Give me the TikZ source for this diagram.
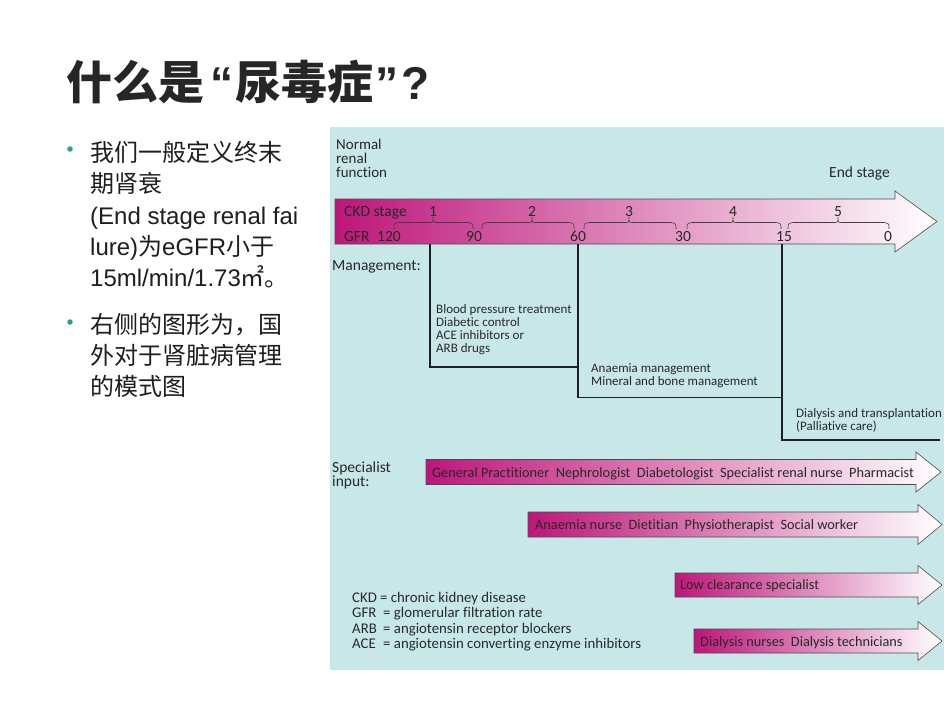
\documentclass[tikz,border=0pt]{standalone}
\usepackage{fontspec}
\setmainfont{Liberation Sans}
\newfontfamily\cjk{Noto Sans CJK SC}
\newfontfamily\dfont[RawFeature={-liga;-clig;-calt}]{Carlito}
\definecolor{panelc}{RGB}{200,231,233}
\definecolor{magc}{RGB}{190,22,122}
\definecolor{bulc}{RGB}{38,160,150}
\definecolor{txtc}{RGB}{30,30,30}
\definecolor{dtxt}{RGB}{40,40,40}
\tikzset{
  body/.style={anchor=base west, inner sep=0pt, text=txtc, font=\fontsize{24}{28}\selectfont},
  dt/.style={anchor=base west, inner sep=0pt, text=dtxt, font=\dfont\fontsize{13}{14}\selectfont},
  lab/.style={anchor=base west, inner sep=0pt, text=dtxt, font=\dfont\fontsize{15.5}{16}\selectfont},
  labc/.style={anchor=base, inner sep=0pt, text=dtxt, font=\dfont\fontsize{15.5}{16}\selectfont},
  at14/.style={anchor=base west, inner sep=0pt, text=dtxt, font=\dfont\fontsize{14.3}{15}\selectfont},
  leg/.style={anchor=base west, inner sep=0pt, text=dtxt, font=\dfont\fontsize{14.8}{15}\selectfont},
  mgmt/.style={line width=1.8pt, draw=black!88},
  brc/.style={draw=black!75, line width=0.6pt},
  arrowfill/.style={left color=magc, right color=white, draw=black!70, line width=0.6pt},
  bul/.style={circle, fill=bulc, inner sep=0pt, minimum size=5.5pt}
}
\newcommand\mybrace[3]{%
  \draw[brc] (#1,229) .. controls (#1,223.5) .. (#1+5,222.5) -- (#2-4,222.5)
     .. controls (#2,222.5) .. (#2,217) .. controls (#2,222.5) .. (#2+4,222.5)
     -- (#3-5,222.5) .. controls (#3,223.5) .. (#3,229);}
\newcommand\sparrow[6]{% x1 ytop ybot xb ymid xtip
  \path[arrowfill] (#1,#2) -- (#4,#2) -- (#4,#2-7.5) -- (#6,#5) -- (#4,#3+7.5) -- (#4,#3) -- (#1,#3) -- cycle;}
\begin{document}
\begin{tikzpicture}[x=1pt,y=-1pt]
\useasboundingbox (0,0) rectangle (944,720);
\fill[white] (0,0) rectangle (944,720);
% title
\node[anchor=west, inner sep=0pt, text=black!85, font=\bfseries\fontsize{46}{50}\selectfont] (title) at (66,82)
  {{\cjk 什么是}\kern6pt“\kern2pt{\cjk 尿毒症}\kern2pt”\kern3pt?};
% bullets
\node[bul] (b1) at (70,149) {};
\node[body] (l1) at (90,161) {\cjk 我们一般定义终末};
\node[body] (l2) at (90,192) {\cjk 期肾衰};
\node[body] (l3) at (90,224) {(End stage renal fai};
\node[body] (l4) at (90,255) {lure){\cjk 为}eGFR{\cjk 小于}};
\node[body] (l5) at (90,286) {15ml/min/1.73{\cjk ㎡。}};
\node[bul] (b2) at (70,322) {};
\node[body] (m1) at (90,333) {\cjk 右侧的图形为，国};
\node[body] (m2) at (90,364) {\cjk 外对于肾脏病管理};
\node[body] (m3) at (90,395) {\cjk 的模式图};
% panel
\fill[panelc] (330,127) rectangle (944,670);
% main arrow
\path[arrowfill] (335,199) -- (895,199) -- (895,191) -- (937,221.5) -- (895,252) -- (895,244) -- (335,244) -- cycle;
\node[lab, anchor=north west, align=left, font=\dfont\fontsize{15}{14}\selectfont] (nrf) at (336,138.5) {Normal\\renal\\function};
\node[lab] (end) at (829,177) {End stage};
\node[lab] (ckd) at (344,216) {CKD stage};
\node[lab] (gfr) at (344,241.5) {GFR};
\node[labc] (s1) at (433,216) {1};
\node[labc] (s2) at (532,216) {2};
\node[labc] (s3) at (629,216) {3};
\node[labc] (s4) at (733,216) {4};
\node[labc] (s5) at (838,216) {5};
\node[labc] (g120) at (389,241.5) {120};
\node[labc] (g90) at (474,241.5) {90};
\node[labc] (g60) at (578,241.5) {60};
\node[labc] (g30) at (683,241.5) {30};
\node[labc] (g15) at (784,241.5) {15};
\node[labc] (g0) at (888,241.5) {0};
\mybrace{394}{433}{473}
\mybrace{482}{532}{574}
\mybrace{584}{629}{676}
\mybrace{687}{733}{781}
\mybrace{788}{838}{889}
% management
\node[lab] (mg) at (332,270) {Management:};
\draw[mgmt] (430,244) -- (430,367) -- (578,367);
\draw[mgmt] (578,244) -- (578,397.5) -- (782,397.5);
\draw[mgmt] (782,244) -- (782,440) -- (940,440);
\node[dt] (a1) at (436,313.5) {Blood pressure treatment};
\node[dt] (a2) at (436,326.5) {Diabetic control};
\node[dt] (a3) at (436,339.5) {ACE inhibitors or};
\node[dt] (a4) at (436,352.5) {ARB drugs};
\node[dt] (c1) at (591,372) {Anaemia management};
\node[dt] (c2) at (591,385) {Mineral and bone management};
\node[dt] (d1) at (796,417) {Dialysis and transplantation};
\node[dt] (d2) at (796,430) {(Palliative care)};
% specialist input
\node[lab] (sp1) at (332,472.5) {Specialist};
\node[lab] (sp2) at (332,486.5) {input:};
\sparrow{426}{459.5}{484.5}{916}{472}{941}
\sparrow{528}{512}{537}{918}{524.5}{942}
\sparrow{675}{573}{597}{918}{585}{942}
\sparrow{694}{629}{653}{918}{641}{942}
\node[at14] (t1) at (432,477) {General Practitioner\ \ Nephrologist\ \ Diabetologist\ \ Specialist renal nurse\ \ Pharmacist};
\node[at14] (t2) at (535,529) {Anaemia nurse\ \ Dietitian\ \ Physiotherapist\ \ Social worker};
\node[at14] (t3) at (680,589.5) {Low clearance specialist};
\node[at14] (t4) at (700,646) {Dialysis nurses\ \ Dialysis technicians};
% legend
\node[leg] (k1) at (352,602.5) {CKD = chronic kidney disease};
\node[leg] (k2) at (352,617.5) {\makebox[31pt][l]{GFR}= glomerular filtration rate};
\node[leg] (k3) at (352,633) {\makebox[31pt][l]{ARB}= angiotensin receptor blockers};
\node[leg] (k4) at (352,648.5) {\makebox[31pt][l]{ACE}= angiotensin converting enzyme inhibitors};
\end{tikzpicture}
\end{document}
